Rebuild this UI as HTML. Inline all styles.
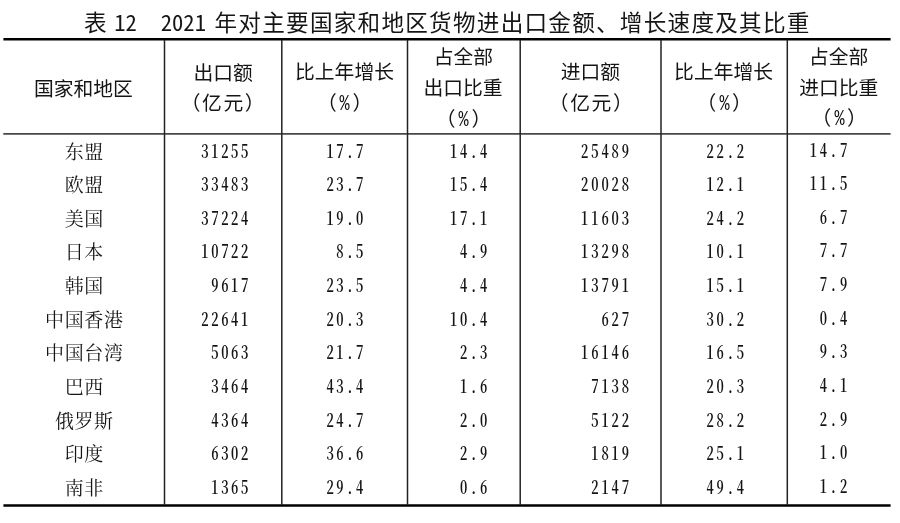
<!DOCTYPE html>
<html lang="zh-CN"><head><meta charset="utf-8"><title>表 12</title>
<style>
html,body{margin:0;padding:0;background:#fff;}
body{width:900px;height:523px;position:relative;overflow:hidden;color:#151515;}
.t{position:absolute;white-space:nowrap;line-height:1;}
.title{font-family:"Liberation Sans","Noto Sans CJK SC",sans-serif;font-size:22.6px;letter-spacing:1.25px;}
.title .n{font-family:"Noto Sans CJK SC",sans-serif;font-feature-settings:"hwid";letter-spacing:0;}
.h{font-family:"Liberation Sans","Noto Sans CJK SC",sans-serif;font-size:19.8px;}
.h .pc{font-family:"Liberation Mono",monospace;font-size:21.5px;line-height:19px;display:inline-block;margin:0 1.45px;transform:scaleX(0.78);vertical-align:baseline;}
.c{font-family:"Liberation Serif","Noto Serif CJK SC",serif;}
.name{font-size:19px;letter-spacing:0.6px;}
.num{font-family:"Noto Serif CJK SC",serif;font-size:18.5px;font-weight:600;font-feature-settings:"hwid";text-align:right;transform:scaleX(0.79);transform-origin:100% 50%;}
.k0{letter-spacing:3.34px;}
.k1{letter-spacing:3.28px;}
.k2{letter-spacing:3.41px;}
.k3{letter-spacing:3.66px;}
.k4{letter-spacing:3.57px;}
.k5{letter-spacing:3.50px;}
svg{position:absolute;left:0;top:0;}
#w{position:absolute;left:0;top:0;width:900px;height:523px;will-change:transform;}
</style></head><body><div id="w">

<svg width="900" height="523" viewBox="0 0 900 523">
<line x1="3.4" x2="890.6" y1="39.25" y2="39.25" stroke="#000" stroke-width="2.6"/>
<line x1="3.3" x2="890.6" y1="133.9" y2="133.9" stroke="#484848" stroke-width="1.7"/>
<line x1="3.4" x2="890.6" y1="505.5" y2="505.5" stroke="#000" stroke-width="2.7"/>
<line x1="164.5" x2="164.5" y1="40" y2="505" stroke="#222" stroke-width="1.5"/>
<line x1="281.8" x2="281.8" y1="40" y2="505" stroke="#222" stroke-width="1.5"/>
<line x1="407.5" x2="407.5" y1="40" y2="505" stroke="#222" stroke-width="1.5"/>
<line x1="520.2" x2="520.2" y1="40" y2="505" stroke="#222" stroke-width="1.5"/>
<line x1="661.0" x2="661.0" y1="40" y2="505" stroke="#222" stroke-width="1.5"/>
<line x1="787.3" x2="787.3" y1="40" y2="505" stroke="#222" stroke-width="1.5"/>
</svg>
<div id="title" class="t title" style="left:84.00px;top:11.00px;">表<span class="n" style="margin-left:6.3px">12</span><span class="n" style="margin-left:24.0px;margin-right:8.6px">2021</span>年对主要国家和地区货物进出口金额、增长速度及其比重</div>
<div id="h1" class="t h" style="left:33.90px;top:79.75px;">国家和地区</div>
<div id="h2a" class="t h" style="left:193.40px;top:63.65px;">出口额</div>
<div id="h2b" class="t h" style="left:180.65px;top:94.25px;letter-spacing:1.6px;">（亿元）</div>
<div id="h3a" class="t h" style="left:295.05px;top:63.00px;">比上年增长</div>
<div id="h3b" class="t h" style="left:316.90px;top:93.95px;">（<span class="pc">%</span>）</div>
<div id="h4a" class="t h" style="left:433.80px;top:48.05px;">占全部</div>
<div id="h4b" class="t h" style="left:423.50px;top:79.35px;">出口比重</div>
<div id="h4c" class="t h" style="left:435.85px;top:110.05px;">（<span class="pc">%</span>）</div>
<div id="h5a" class="t h" style="left:560.80px;top:63.00px;">进口额</div>
<div id="h5b" class="t h" style="left:548.80px;top:94.30px;letter-spacing:1.6px;">（亿元）</div>
<div id="h6a" class="t h" style="left:674.10px;top:63.00px;">比上年增长</div>
<div id="h6b" class="t h" style="left:696.40px;top:93.95px;">（<span class="pc">%</span>）</div>
<div id="h7a" class="t h" style="left:808.95px;top:47.90px;">占全部</div>
<div id="h7b" class="t h" style="left:799.15px;top:78.80px;">进口比重</div>
<div id="h7c" class="t h" style="left:811.50px;top:108.85px;">（<span class="pc">%</span>）</div>
<div id="n0" class="t c name" style="left:4.00px;top:142.80px;width:160px;text-align:center;text-indent:0.6px;">东盟</div>
<div id="d0_0" class="t c num k0" style="left:151.45px;top:140.60px;width:100px;text-align:right;">31255</div>
<div id="d0_1" class="t c num k1" style="left:266.40px;top:140.60px;width:100px;text-align:right;">17.7</div>
<div id="d0_2" class="t c num k2" style="left:389.50px;top:140.60px;width:100px;text-align:right;">14.4</div>
<div id="d0_3" class="t c num k3" style="left:532.05px;top:140.60px;width:100px;text-align:right;">25489</div>
<div id="d0_4" class="t c num k4" style="left:646.90px;top:140.60px;width:100px;text-align:right;">22.2</div>
<div id="d0_5" class="t c num k5" style="left:750.10px;top:139.50px;width:100px;text-align:right;">14.7</div>
<div id="n1" class="t c name" style="left:4.00px;top:175.80px;width:160px;text-align:center;text-indent:0.6px;">欧盟</div>
<div id="d1_0" class="t c num k0" style="left:151.45px;top:173.60px;width:100px;text-align:right;">33483</div>
<div id="d1_1" class="t c num k1" style="left:266.40px;top:173.60px;width:100px;text-align:right;">23.7</div>
<div id="d1_2" class="t c num k2" style="left:389.50px;top:173.60px;width:100px;text-align:right;">15.4</div>
<div id="d1_3" class="t c num k3" style="left:532.05px;top:173.60px;width:100px;text-align:right;">20028</div>
<div id="d1_4" class="t c num k4" style="left:646.90px;top:173.60px;width:100px;text-align:right;">12.1</div>
<div id="d1_5" class="t c num k5" style="left:750.10px;top:172.50px;width:100px;text-align:right;">11.5</div>
<div id="n2" class="t c name" style="left:4.00px;top:209.80px;width:160px;text-align:center;text-indent:0.6px;">美国</div>
<div id="d2_0" class="t c num k0" style="left:151.45px;top:207.60px;width:100px;text-align:right;">37224</div>
<div id="d2_1" class="t c num k1" style="left:266.40px;top:207.60px;width:100px;text-align:right;">19.0</div>
<div id="d2_2" class="t c num k2" style="left:389.50px;top:207.60px;width:100px;text-align:right;">17.1</div>
<div id="d2_3" class="t c num k3" style="left:532.05px;top:207.60px;width:100px;text-align:right;">11603</div>
<div id="d2_4" class="t c num k4" style="left:646.90px;top:207.60px;width:100px;text-align:right;">24.2</div>
<div id="d2_5" class="t c num k5" style="left:750.10px;top:206.50px;width:100px;text-align:right;">6.7</div>
<div id="n3" class="t c name" style="left:4.00px;top:242.80px;width:160px;text-align:center;text-indent:0.6px;">日本</div>
<div id="d3_0" class="t c num k0" style="left:151.45px;top:240.60px;width:100px;text-align:right;">10722</div>
<div id="d3_1" class="t c num k1" style="left:266.40px;top:240.60px;width:100px;text-align:right;">8.5</div>
<div id="d3_2" class="t c num k2" style="left:389.50px;top:240.60px;width:100px;text-align:right;">4.9</div>
<div id="d3_3" class="t c num k3" style="left:532.05px;top:240.60px;width:100px;text-align:right;">13298</div>
<div id="d3_4" class="t c num k4" style="left:646.90px;top:240.60px;width:100px;text-align:right;">10.1</div>
<div id="d3_5" class="t c num k5" style="left:750.10px;top:239.50px;width:100px;text-align:right;">7.7</div>
<div id="n4" class="t c name" style="left:4.00px;top:276.80px;width:160px;text-align:center;text-indent:0.6px;">韩国</div>
<div id="d4_0" class="t c num k0" style="left:151.45px;top:274.60px;width:100px;text-align:right;">9617</div>
<div id="d4_1" class="t c num k1" style="left:266.40px;top:274.60px;width:100px;text-align:right;">23.5</div>
<div id="d4_2" class="t c num k2" style="left:389.50px;top:274.60px;width:100px;text-align:right;">4.4</div>
<div id="d4_3" class="t c num k3" style="left:532.05px;top:274.60px;width:100px;text-align:right;">13791</div>
<div id="d4_4" class="t c num k4" style="left:646.90px;top:274.60px;width:100px;text-align:right;">15.1</div>
<div id="d4_5" class="t c num k5" style="left:750.10px;top:273.50px;width:100px;text-align:right;">7.9</div>
<div id="n5" class="t c name" style="left:4.00px;top:310.80px;width:160px;text-align:center;text-indent:0.6px;">中国香港</div>
<div id="d5_0" class="t c num k0" style="left:151.45px;top:308.60px;width:100px;text-align:right;">22641</div>
<div id="d5_1" class="t c num k1" style="left:266.40px;top:308.60px;width:100px;text-align:right;">20.3</div>
<div id="d5_2" class="t c num k2" style="left:389.50px;top:308.60px;width:100px;text-align:right;">10.4</div>
<div id="d5_3" class="t c num k3" style="left:532.05px;top:308.60px;width:100px;text-align:right;">627</div>
<div id="d5_4" class="t c num k4" style="left:646.90px;top:308.60px;width:100px;text-align:right;">30.2</div>
<div id="d5_5" class="t c num k5" style="left:750.10px;top:307.50px;width:100px;text-align:right;">0.4</div>
<div id="n6" class="t c name" style="left:4.00px;top:343.80px;width:160px;text-align:center;text-indent:0.6px;">中国台湾</div>
<div id="d6_0" class="t c num k0" style="left:151.45px;top:341.60px;width:100px;text-align:right;">5063</div>
<div id="d6_1" class="t c num k1" style="left:266.40px;top:341.60px;width:100px;text-align:right;">21.7</div>
<div id="d6_2" class="t c num k2" style="left:389.50px;top:341.60px;width:100px;text-align:right;">2.3</div>
<div id="d6_3" class="t c num k3" style="left:532.05px;top:341.60px;width:100px;text-align:right;">16146</div>
<div id="d6_4" class="t c num k4" style="left:646.90px;top:341.60px;width:100px;text-align:right;">16.5</div>
<div id="d6_5" class="t c num k5" style="left:750.10px;top:340.50px;width:100px;text-align:right;">9.3</div>
<div id="n7" class="t c name" style="left:4.00px;top:377.80px;width:160px;text-align:center;text-indent:0.6px;">巴西</div>
<div id="d7_0" class="t c num k0" style="left:151.45px;top:375.60px;width:100px;text-align:right;">3464</div>
<div id="d7_1" class="t c num k1" style="left:266.40px;top:375.60px;width:100px;text-align:right;">43.4</div>
<div id="d7_2" class="t c num k2" style="left:389.50px;top:375.60px;width:100px;text-align:right;">1.6</div>
<div id="d7_3" class="t c num k3" style="left:532.05px;top:375.60px;width:100px;text-align:right;">7138</div>
<div id="d7_4" class="t c num k4" style="left:646.90px;top:375.60px;width:100px;text-align:right;">20.3</div>
<div id="d7_5" class="t c num k5" style="left:750.10px;top:374.50px;width:100px;text-align:right;">4.1</div>
<div id="n8" class="t c name" style="left:4.00px;top:411.80px;width:160px;text-align:center;text-indent:0.6px;">俄罗斯</div>
<div id="d8_0" class="t c num k0" style="left:151.45px;top:409.60px;width:100px;text-align:right;">4364</div>
<div id="d8_1" class="t c num k1" style="left:266.40px;top:409.60px;width:100px;text-align:right;">24.7</div>
<div id="d8_2" class="t c num k2" style="left:389.50px;top:409.60px;width:100px;text-align:right;">2.0</div>
<div id="d8_3" class="t c num k3" style="left:532.05px;top:409.60px;width:100px;text-align:right;">5122</div>
<div id="d8_4" class="t c num k4" style="left:646.90px;top:409.60px;width:100px;text-align:right;">28.2</div>
<div id="d8_5" class="t c num k5" style="left:750.10px;top:408.50px;width:100px;text-align:right;">2.9</div>
<div id="n9" class="t c name" style="left:4.00px;top:444.80px;width:160px;text-align:center;text-indent:0.6px;">印度</div>
<div id="d9_0" class="t c num k0" style="left:151.45px;top:442.60px;width:100px;text-align:right;">6302</div>
<div id="d9_1" class="t c num k1" style="left:266.40px;top:442.60px;width:100px;text-align:right;">36.6</div>
<div id="d9_2" class="t c num k2" style="left:389.50px;top:442.60px;width:100px;text-align:right;">2.9</div>
<div id="d9_3" class="t c num k3" style="left:532.05px;top:442.60px;width:100px;text-align:right;">1819</div>
<div id="d9_4" class="t c num k4" style="left:646.90px;top:442.60px;width:100px;text-align:right;">25.1</div>
<div id="d9_5" class="t c num k5" style="left:750.10px;top:441.50px;width:100px;text-align:right;">1.0</div>
<div id="n10" class="t c name" style="left:4.00px;top:478.80px;width:160px;text-align:center;text-indent:0.6px;">南非</div>
<div id="d10_0" class="t c num k0" style="left:151.45px;top:476.60px;width:100px;text-align:right;">1365</div>
<div id="d10_1" class="t c num k1" style="left:266.40px;top:476.60px;width:100px;text-align:right;">29.4</div>
<div id="d10_2" class="t c num k2" style="left:389.50px;top:476.60px;width:100px;text-align:right;">0.6</div>
<div id="d10_3" class="t c num k3" style="left:532.05px;top:476.60px;width:100px;text-align:right;">2147</div>
<div id="d10_4" class="t c num k4" style="left:646.90px;top:476.60px;width:100px;text-align:right;">49.4</div>
<div id="d10_5" class="t c num k5" style="left:750.10px;top:475.50px;width:100px;text-align:right;">1.2</div>
</div></body></html>
